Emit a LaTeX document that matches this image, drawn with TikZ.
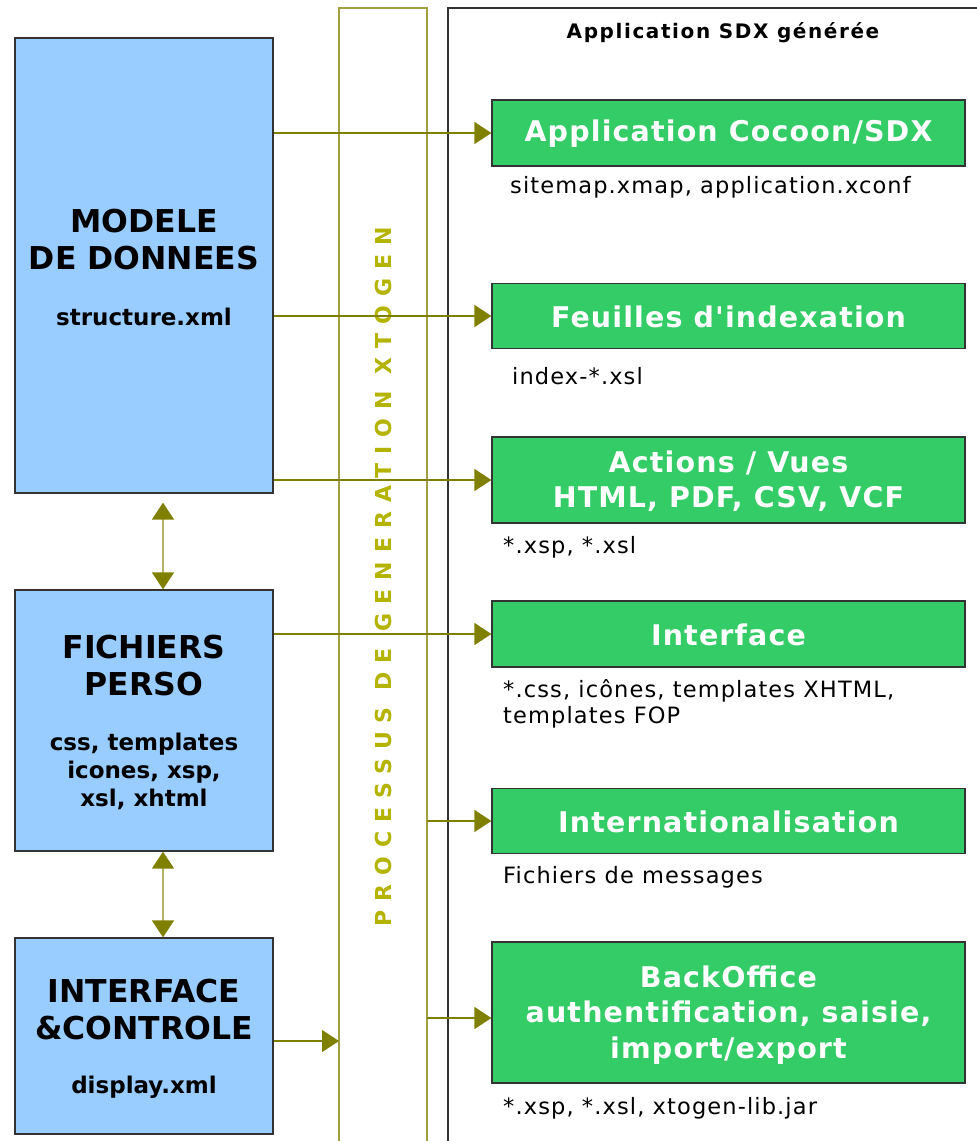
\documentclass[tikz,border=0pt]{standalone}
\usepackage{fontspec}
\setmainfont[Ligatures=TeXOff]{DejaVu Sans}
\newfontfamily\spaced[LetterSpace=41,BoldFont={DejaVu Sans Bold}]{DejaVu Sans}
\usetikzlibrary{arrows.meta}
\definecolor{bluefill}{HTML}{99CCFF}
\definecolor{greenfill}{HTML}{33CC66}
\definecolor{arrolive}{HTML}{808000}
\definecolor{bandline}{HTML}{A0A040}
\definecolor{bandtext}{HTML}{B3B300}
\definecolor{boxline}{HTML}{333333}
\tikzset{
  bluebox/.style={draw=boxline, line width=1.3pt, fill=bluefill, minimum width=258pt, inner sep=0pt},
  greenbox/.style={draw=boxline, line width=1.2pt, fill=greenfill, minimum width=473pt, inner sep=0pt},
  bigtitle/.style={font=\bfseries\fontsize{31.5}{37}\selectfont, align=center, inner sep=0pt},
  smalltitle/.style={font=\bfseries\fontsize{23}{28}\selectfont, align=center, inner sep=0pt},
  gtitle/.style={font=\bfseries\fontsize{28.5}{35.5}\selectfont\addfontfeature{LetterSpace=4}, text=white, align=center, inner sep=0pt},
  subtext/.style={font=\fontsize{22.5}{26}\selectfont\addfontfeature{LetterSpace=5}, anchor=west, align=left, inner sep=0pt},
  arr/.style={draw=arrolive, line width=1.3pt, -{Triangle[length=17pt,width=22pt]}},
  darr/.style={draw=arrolive!60, line width=1.5pt, {Triangle[length=17pt,width=22pt,color=arrolive]}-{Triangle[length=17pt,width=22pt,color=arrolive]}},
}
\begin{document}
\begin{tikzpicture}[x=1pt,y=-1pt]
\useasboundingbox (0,0) rectangle (977,1141);
% right panel
\draw[boxline, line width=1.2pt] (990,8) -- (448,8) -- (448,1150);
% olive band
\draw[bandline, line width=1.5pt] (339,1150) -- (339,8) -- (427,8) -- (427,1150);
\coordinate (bandR) at (427,0);
\coordinate (bandL) at (339,0);
\node[rotate=90, font=\spaced\bfseries\fontsize{22}{22}\selectfont, text=bandtext, inner sep=0pt] (vt) at (383,577) {PROCESSUS DE GENERATION XTOGEN};
% title
\node[font=\bfseries\fontsize{20}{24}\selectfont\addfontfeature{LetterSpace=8}, inner sep=0pt] (title) at (723,33) {Application SDX générée};
% blue boxes
\node[bluebox, minimum height=455pt] (m) at (144,265.5) {};
\node[bigtitle] (mt) at (144,240) {MODELE\\DE DONNEES};
\node[smalltitle] (ms) at (144,317) {structure.xml};
\node[bluebox, minimum height=261pt] (f) at (144,720.5) {};
\node[bigtitle] (ft) at (144,666) {FICHIERS\\PERSO};
\node[smalltitle] (fs) at (144,771) {css, templates\\icones, xsp,\\xsl, xhtml};
\node[bluebox, minimum height=196pt] (i) at (144,1036) {};
\node[bigtitle] (it) at (144,1009.5) {INTERFACE\\\&CONTROLE};
\node[smalltitle] (is) at (144,1087) {display.xml};
% green boxes
\node[greenbox, minimum height=66pt] (g1) at (728.5,133) {};
\node[gtitle] (g1t) at (728.5,134) {Application Cocoon/SDX};
\node[greenbox, minimum height=65pt] (g2) at (728.5,316) {};
\node[gtitle] (g2t) at (728.5,317) {Feuilles d'indexation};
\node[greenbox, minimum height=86pt] (g3) at (728.5,480) {};
\node[gtitle] (g3t) at (728.5,481) {Actions / Vues\\HTML, PDF, CSV, VCF};
\node[greenbox, minimum height=66pt] (g4) at (728.5,634) {};
\node[gtitle] (g4t) at (728.5,635) {Interface};
\node[greenbox, minimum height=65pt] (g5) at (728.5,821) {};
\node[gtitle] (g5t) at (728.5,822) {Internationalisation};
\node[greenbox, minimum height=141pt] (g6) at (728.5,1012.5) {};
\node[gtitle] (g6t) at (728.5,1015) {BackOffice\\authentification, saisie,\\import/export};
% subtexts
\node[subtext] (s1) at (510,187) {sitemap.xmap, application.xconf};
\node[subtext] (s2) at (512,376) {index-*.xsl};
\node[subtext] (s3) at (503,547) {*.xsp, *.xsl};
\node[subtext] (s4) at (503,704) {*.css, icônes, templates XHTML,\\templates FOP};
\node[subtext] (s5) at (503,877) {Fichiers de messages};
\node[subtext] (s6) at (503,1108) {*.xsp, *.xsl, xtogen-lib.jar};
% arrows
\draw[arr] (m.east |- g1) -- (g1.west);
\draw[arr] (m.east |- g2) -- (g2.west);
\draw[arr] (m.east |- g3) -- (g3.west);
\draw[arr] (f.east |- g4) -- (g4.west);
\draw[arr] (bandR |- g5) -- (g5.west);
\coordinate (c6) at (0,1018);
\draw[arr] (bandR |- c6) -- (g6.west |- c6);
\coordinate (c7) at (0,1041);
\draw[arr] (i.east |- c7) -- (bandL |- c7);
% double arrows
\coordinate (dx) at (163,0);
\draw[darr, shorten <=9pt] (m.south -| dx) -- (f.north -| dx);
\draw[darr] (f.south -| dx) -- (i.north -| dx);
\end{tikzpicture}
\end{document}
